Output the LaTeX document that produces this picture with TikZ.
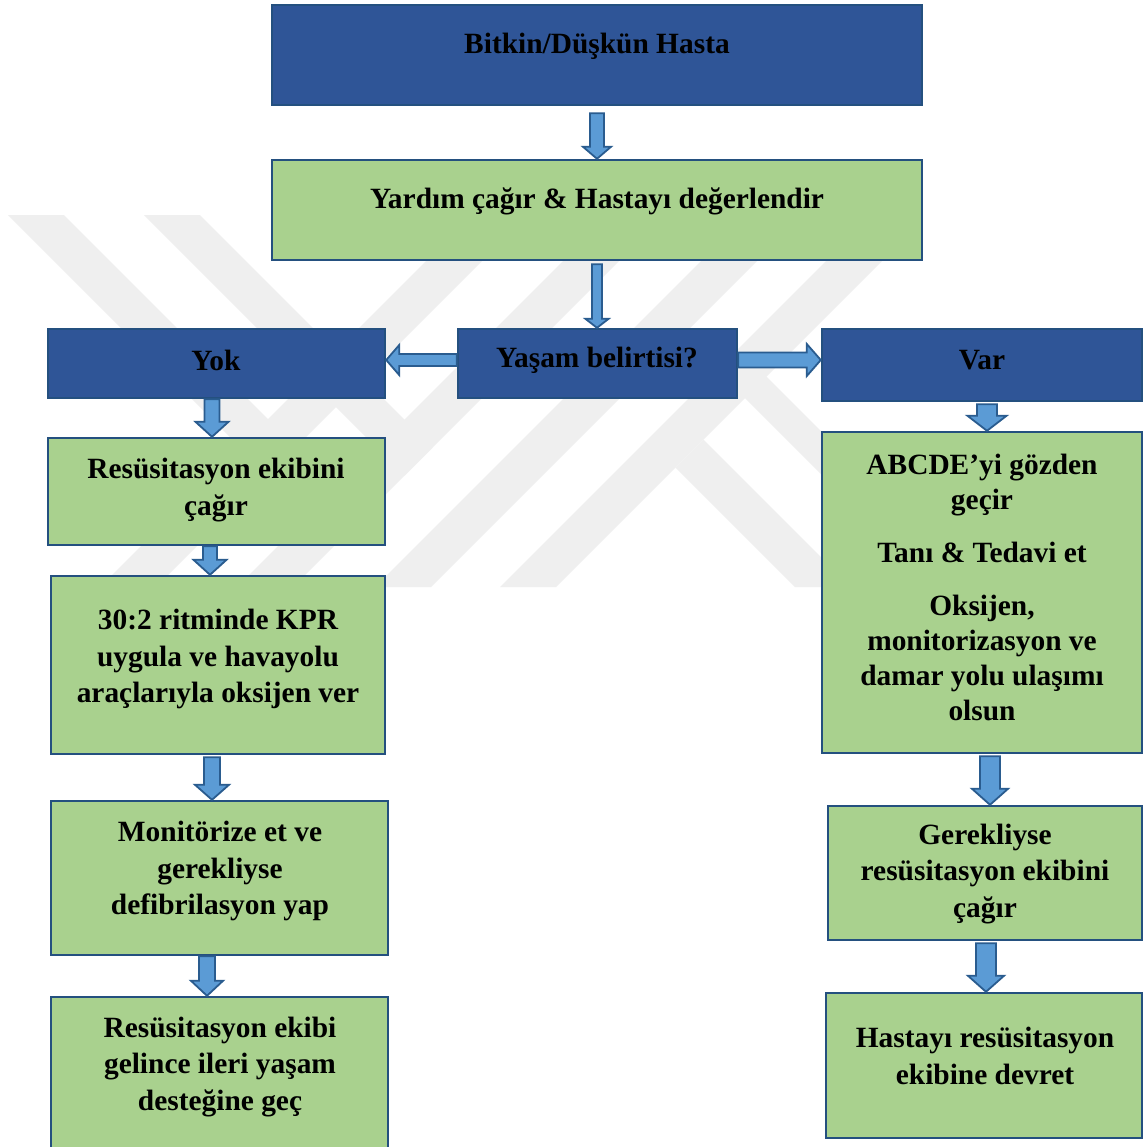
\documentclass[tikz,border=0pt]{standalone}
\usepackage{fontspec}
\setmainfont{Liberation Serif}
\usetikzlibrary{calc,fit}
\definecolor{boxblue}{HTML}{2F5597}
\definecolor{boxgreen}{HTML}{A9D18E}
\definecolor{boxline}{HTML}{24507F}
\definecolor{arrowfill}{HTML}{5B9BD5}
\definecolor{arrowline}{HTML}{2A5C8F}
\definecolor{wmark}{RGB}{239,239,239}
\tikzset{
  bluebox/.style={draw=boxline, fill=boxblue, line width=1.2pt, inner sep=0pt},
  greenbox/.style={draw=boxline, fill=boxgreen, line width=1.2pt, inner sep=0pt},
  txt/.style={align=center, font=\bfseries\fontsize{14.7}{18.3}\selectfont, text=black, inner sep=0pt},
  txttight/.style={txt, font=\bfseries\fontsize{14.7}{17.5}\selectfont},
  barrow/.style={draw=arrowline, fill=arrowfill, line width=0.9pt, line join=miter},
  wm/.style={fill=wmark, draw=none}
}
% block arrow: #1 start, #2 tip, #3 shaft half width, #4 head half width, #5 head length
\newcommand{\blockarrow}[5]{%
  \path (#2) coordinate (tipP);
  \path (#1) coordinate (startP);
  \path ($(tipP)!#5!(startP)$) coordinate (baseP);
  \draw[barrow] ($(startP)!#3!90:(tipP)$) -- ($(baseP)!#3!-90:(startP)$)
     -- ($(baseP)!#4!-90:(startP)$) -- (tipP) -- ($(baseP)!#4!90:(startP)$)
     -- ($(baseP)!#3!90:(startP)$) -- ($(startP)!#3!-90:(tipP)$) -- cycle;
}
\begin{document}
\begin{tikzpicture}[x=0.5pt, y=-0.5pt]
\useasboundingbox (0,0) rectangle (1144,1147);
\fill[white] (0,0) rectangle (1144,1147);

% watermark
\fill[wm] (8,215) -- (64,215) -- (296,447) -- (268,475) -- cycle;
\fill[wm] (144,215) -- (200,215) -- (432.5,447.5) -- (404.5,475.5) -- cycle;
\fill[wm] (472,215) -- (528,215) -- (156,587) -- (100,587) -- cycle;
\fill[wm] (609,215) -- (665,215) -- (293,587) -- (237,587) -- cycle;
\fill[wm] (747,215) -- (803,215) -- (431,587) -- (375,587) -- cycle;
\fill[wm] (837,250) -- (893,250) -- (556,587) -- (500,587) -- cycle;
\fill[wm] (703.5,439.5) -- (851,587) -- (795,587) -- (675.5,467.5) -- cycle;
\fill[wm] (717,370) -- (760,370) -- (950,560) -- (907,560) -- cycle;

% boxes
\node[bluebox, fit={(272,5) (922,105)}] (n1) {};
\node[greenbox, fit={(272,160) (922,260)}] (n2) {};
\node[bluebox, fit={(48,329) (385,398)}] (yok) {};
\node[bluebox, fit={(458,329) (737,398)}] (yas) {};
\node[bluebox, fit={(822,329) (1142,401)}] (var) {};
\node[greenbox, fit={(48,438) (385,545)}] (r1) {};
\node[greenbox, fit={(51,576) (385,754)}] (kpr) {};
\node[greenbox, fit={(51,801) (388,955)}] (mon) {};
\node[greenbox, fit={(51,997) (388,1156)}] (r2) {};
\node[greenbox, fit={(822,432) (1142,753)}] (abc) {};
\node[greenbox, fit={(828,806) (1142,940)}] (ger) {};
\node[greenbox, fit={(826,993) (1142,1138)}] (has) {};

% texts
\node[txt] (n1t) at (597,46) {Bitkin/Düşkün Hasta};
\node[txt] (n2t) at (597,201) {Yardım çağır \& Hastayı değerlendir};
\node[txt] (yokt) at (216,360) {Yok};
\node[txt] (yast) at (597,360) {Yaşam belirtisi?};
\node[txt] (vart) at (982,360) {Var};
\node[txt] (r1t) at (216,490) {Resüsitasyon ekibini\\çağır};
\node[txt] (kprt) at (218,659) {30:2 ritminde KPR\\uygula ve havayolu\\araçlarıyla oksijen ver};
\node[txt] (mont) at (220,871) {Monitörize et ve\\gerekliyse\\defibrilasyon yap};
\node[txt] (r2t) at (220,1067) {Resüsitasyon ekibi\\gelince ileri yaşam\\desteğine geç};
\node[txttight] (abct) at (982,587) {ABCDE’yi gözden\\geçir\\[9pt]Tanı \& Tedavi et\\[9pt]Oksijen,\\monitorizasyon ve\\damar yolu ulaşımı\\olsun};
\node[txt] (gert) at (985,874) {Gerekliyse\\resüsitasyon ekibini\\çağır};
\node[txt] (hast) at (985,1056) {Hastayı resüsitasyon\\ekibine devret};

% arrow end points
\coordinate (a1s) at ([yshift=-3.5pt]n1.south);
\coordinate (a1e) at (a1s |- n2.north);
\coordinate (a2s) at ([yshift=-1.5pt]n2.south);
\coordinate (a2e) at (a2s |- yas.north);
\coordinate (a3s) at ([yshift=1.75pt]yas.west);
\coordinate (a3e) at (a3s -| yok.east);
\coordinate (a4s) at ([yshift=1.75pt]yas.east);
\coordinate (a4e) at (a4s -| var.west);
\coordinate (a5s) at ([xshift=-2.25pt]yok.south);
\coordinate (a5e) at (a5s |- r1.north);
\coordinate (a6s) at ([xshift=-3.25pt]r1.south);
\coordinate (a6e) at (a6s |- kpr.north);
\coordinate (a7s) at ([xshift=-3pt,yshift=-1pt]kpr.south);
\coordinate (a7e) at (a7s |- mon.north);
\coordinate (a8s) at ([xshift=-6.25pt]mon.south);
\coordinate (a8e) at (a8s |- r2.north);
\coordinate (a9s) at ([xshift=2.5pt,yshift=-1pt]var.south);
\coordinate (a9e) at (a9s |- abc.north);
\coordinate (a10s) at ([xshift=4pt,yshift=-1pt]abc.south);
\coordinate (a10e) at (a10s |- ger.north);
\coordinate (a11s) at ([xshift=0.5pt,yshift=-1pt]ger.south);
\coordinate (a11e) at (a11s |- has.north);

% arrows
\blockarrow{a1s}{a1e}{3.5pt}{7pt}{6pt}
\blockarrow{a2s}{a2e}{2.5pt}{5.8pt}{4.5pt}
\blockarrow{a3s}{a3e}{3pt}{7.5pt}{6.5pt}
\blockarrow{a4s}{a4e}{3.75pt}{8pt}{7pt}
\blockarrow{a5s}{a5e}{3.75pt}{8.25pt}{7.5pt}
\blockarrow{a6s}{a6e}{3.5pt}{8.25pt}{7.5pt}
\blockarrow{a7s}{a7e}{4pt}{8.5pt}{7.5pt}
\blockarrow{a8s}{a8e}{4pt}{8pt}{7.5pt}
\blockarrow{a9s}{a9e}{5pt}{9.75pt}{7.5pt}
\blockarrow{a10s}{a10e}{5pt}{9pt}{8pt}
\blockarrow{a11s}{a11e}{5pt}{9pt}{8pt}
\end{tikzpicture}
\end{document}
